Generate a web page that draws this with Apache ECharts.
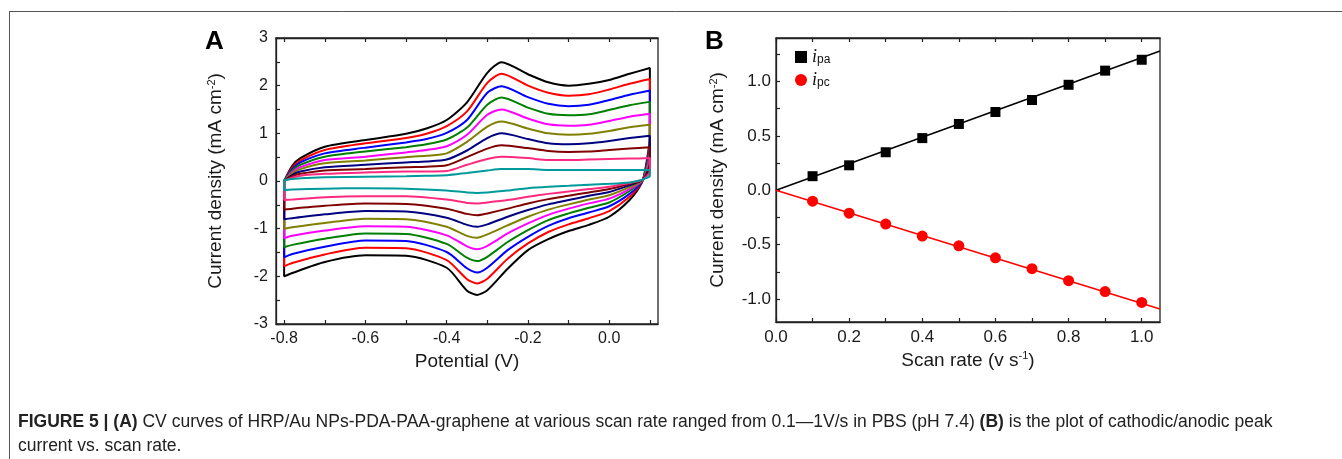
<!DOCTYPE html>
<html>
<head>
<meta charset="utf-8">
<script src="https://cdn.jsdelivr.net/npm/echarts@6/dist/echarts.min.js"></script>
<style>
html,body{margin:0;padding:0;background:#fff;}
#chart{width:1342px;height:459px;}
</style>
</head>
<body>
<div id="chart"></div>
<script>
// ---------- Panel A: CV curves ----------
const scanRatesA = ['1.0', '0.9', '0.8', '0.7', '0.6', '0.5', '0.4', '0.3', '0.2', '0.1'];
const potentialAnodic = [-0.8, -0.78, -0.76, -0.7, -0.6, -0.5, -0.45, -0.4, -0.35, -0.3, -0.265, -0.2, -0.15, -0.1, -0.05, 0, 0.05, 0.1];
const potentialCathodic = [0.1, 0.09, 0.08, 0.05, 0, -0.05, -0.1, -0.15, -0.2, -0.25, -0.3, -0.325, -0.35, -0.4, -0.5, -0.6, -0.7, -0.78, -0.8];

const anodic10 = [0, 0.32, 0.48, 0.72, 0.86, 0.99, 1.10, 1.28, 1.65, 2.27, 2.49, 2.24, 2.07, 2.00, 2.04, 2.12, 2.25, 2.37];
const anodic09 = [0, 0.28, 0.43, 0.65, 0.79, 0.90, 0.99, 1.15, 1.46, 2.06, 2.25, 2.00, 1.85, 1.79, 1.82, 1.92, 2.04, 2.14];
const anodic08 = [0, 0.25, 0.39, 0.58, 0.70, 0.81, 0.88, 1.01, 1.28, 1.85, 1.99, 1.76, 1.62, 1.57, 1.60, 1.70, 1.81, 1.90];
const anodic07 = [0, 0.22, 0.34, 0.51, 0.62, 0.71, 0.77, 0.87, 1.12, 1.60, 1.75, 1.54, 1.41, 1.38, 1.40, 1.49, 1.59, 1.66];
const anodic06 = [0, 0.19, 0.29, 0.44, 0.51, 0.60, 0.65, 0.73, 0.97, 1.39, 1.50, 1.31, 1.19, 1.16, 1.18, 1.26, 1.35, 1.41];
const anodic05 = [0, 0.16, 0.25, 0.37, 0.43, 0.50, 0.53, 0.58, 0.82, 1.14, 1.25, 1.10, 1.00, 0.97, 0.99, 1.05, 1.13, 1.18];
const anodic04 = [0, 0.13, 0.20, 0.29, 0.34, 0.39, 0.41, 0.45, 0.64, 0.90, 1.00, 0.88, 0.79, 0.77, 0.79, 0.84, 0.90, 0.95];
const anodic03 = [0, 0.10, 0.15, 0.22, 0.25, 0.29, 0.30, 0.33, 0.50, 0.68, 0.75, 0.69, 0.63, 0.61, 0.62, 0.65, 0.68, 0.71];
const anodic02 = [0, 0.07, 0.11, 0.15, 0.18, 0.20, 0.20, 0.21, 0.34, 0.46, 0.51, 0.48, 0.44, 0.44, 0.45, 0.46, 0.47, 0.48];
const anodic01 = [0.02, 0.04, 0.06, 0.08, 0.09, 0.10, 0.11, 0.12, 0.17, 0.22, 0.25, 0.25, 0.23, 0.23, 0.23, 0.23, 0.23, 0.23];

const cathodic10 = [0.95, 0.30, -0.04, -0.40, -0.75, -0.92, -1.05, -1.22, -1.45, -1.84, -2.29, -2.39, -2.30, -1.82, -1.57, -1.56, -1.70, -1.93, -2.00];
const cathodic09 = [0.85, 0.27, -0.03, -0.33, -0.63, -0.78, -0.91, -1.07, -1.31, -1.63, -2.05, -2.15, -2.06, -1.66, -1.41, -1.40, -1.54, -1.72, -1.79];
const cathodic08 = [0.76, 0.24, -0.02, -0.27, -0.53, -0.66, -0.78, -0.94, -1.17, -1.45, -1.82, -1.92, -1.83, -1.49, -1.26, -1.25, -1.38, -1.53, -1.60];
const cathodic07 = [0.66, 0.21, -0.01, -0.21, -0.45, -0.56, -0.68, -0.82, -1.03, -1.28, -1.59, -1.68, -1.61, -1.32, -1.11, -1.10, -1.21, -1.34, -1.39];
const cathodic06 = [0.56, 0.18, 0.00, -0.17, -0.37, -0.47, -0.58, -0.71, -0.89, -1.10, -1.36, -1.43, -1.37, -1.14, -0.96, -0.95, -1.04, -1.15, -1.20];
const cathodic05 = [0.47, 0.15, 0.00, -0.13, -0.30, -0.39, -0.49, -0.60, -0.75, -0.93, -1.12, -1.19, -1.15, -0.96, -0.80, -0.79, -0.88, -0.97, -1.00];
const cathodic04 = [0.38, 0.12, 0.01, -0.09, -0.23, -0.31, -0.40, -0.49, -0.61, -0.75, -0.91, -0.96, -0.92, -0.77, -0.64, -0.63, -0.70, -0.78, -0.80];
const cathodic03 = [0.28, 0.10, 0.01, -0.06, -0.17, -0.24, -0.31, -0.38, -0.47, -0.58, -0.68, -0.72, -0.69, -0.58, -0.48, -0.47, -0.52, -0.58, -0.60];
const cathodic02 = [0.19, 0.08, 0.02, -0.04, -0.12, -0.17, -0.22, -0.27, -0.33, -0.40, -0.45, -0.47, -0.46, -0.39, -0.32, -0.32, -0.34, -0.39, -0.40];
const cathodic01 = [0.10, 0.06, 0.02, -0.03, -0.06, -0.08, -0.10, -0.12, -0.15, -0.20, -0.24, -0.25, -0.24, -0.20, -0.16, -0.15, -0.16, -0.18, -0.19];

const anodicCurves = [anodic10, anodic09, anodic08, anodic07, anodic06, anodic05, anodic04, anodic03, anodic02, anodic01];
const cathodicCurves = [cathodic10, cathodic09, cathodic08, cathodic07, cathodic06, cathodic05, cathodic04, cathodic03, cathodic02, cathodic01];

const xTicksA = [-0.8, -0.7, -0.6, -0.5, -0.4, -0.3, -0.2, -0.1, 0.0, 0.1];
const xLabelsA = [-0.8, -0.6, -0.4, -0.2, 0.0];
const yTicksA = [-3, -2.5, -2, -1.5, -1, -0.5, 0, 0.5, 1, 1.5, 2, 2.5, 3];
const yLabelsA = [-3, -2, -1, 0, 1, 2, 3];

// ---------- Panel B: peak current vs scan rate ----------
const scanRatesB = [0.1, 0.2, 0.3, 0.4, 0.5, 0.6, 0.7, 0.8, 0.9, 1.0];
const ipa = [0.13, 0.23, 0.35, 0.48, 0.61, 0.72, 0.83, 0.97, 1.10, 1.20];
const ipc = [-0.10, -0.21, -0.31, -0.42, -0.51, -0.62, -0.72, -0.83, -0.93, -1.03];
const fitX = [0, 1.05];
const fitPa = [0, 1.28];
const fitPc = [0, -1.09];

const xTicksB = [0, 0.1, 0.2, 0.3, 0.4, 0.5, 0.6, 0.7, 0.8, 0.9, 1.0];
const xLabelsB = [0, 0.2, 0.4, 0.6, 0.8, 1.0];
const yTicksB = [-1.0, -0.75, -0.5, -0.25, 0, 0.25, 0.5, 0.75, 1.0, 1.25];
const yLabelsB = [-1.0, -0.5, 0.0, 0.5, 1.0];

// ---------- styles ----------
const curveColors = ['#000000', '#ff0000', '#0000ff', '#008000', '#ff00ff', '#808000', '#000080', '#800000', '#ff2a80', '#009a9a'];
const FONT = '"Liberation Sans", Arial, sans-serif';
const frameColor = '#222';

function axisCommon(gridIndex, min, max, ticks, labels, pos, showLabel, fmt, margin, fs) {
  return {
    type: 'value', gridIndex: gridIndex, position: pos, min: min, max: max,
    splitLine: { show: false },
    axisLine: { show: true, onZero: false, lineStyle: { color: frameColor, width: 1.3 } },
    axisTick: { show: true, inside: true, length: 4, customValues: ticks, lineStyle: { color: frameColor, width: 1.2 } },
    axisLabel: { show: showLabel, customValues: labels, formatter: fmt, margin: margin,
      fontFamily: FONT, fontSize: fs || 16, color: '#1a1a1a' }
  };
}

const fmt1 = v => (Math.abs(v) < 1e-9 ? 0 : v).toFixed(1);
const fmt0 = v => String(Math.round(v));

const nameRich = {
  a: { fontFamily: FONT, fontSize: 19, color: '#1a1a1a' },
  s: { fontFamily: FONT, fontSize: 11, color: '#1a1a1a', padding: [0, 0, 9, 0] }
};

const xAxes = [
  Object.assign(axisCommon(0, -0.82, 0.12, xTicksA, xLabelsA, 'bottom', true, fmt1, 7, 16), {
    name: 'Potential (V)', nameLocation: 'middle', nameGap: 28,
    nameTextStyle: { fontFamily: FONT, fontSize: 19, color: '#1a1a1a' }
  }),
  axisCommon(0, -0.82, 0.12, xTicksA, xLabelsA, 'top', false, fmt1, 7),
  Object.assign(axisCommon(1, 0, 1.05, xTicksB, xLabelsB, 'bottom', true, fmt1, 7, 17), {
    name: '{a|Scan rate (v s}{s|-1}{a|)}', nameLocation: 'middle', nameGap: 28,
    nameTextStyle: { fontFamily: FONT, fontSize: 19, color: '#1a1a1a', rich: nameRich }
  }),
  axisCommon(1, 0, 1.05, xTicksB, xLabelsB, 'top', false, fmt1, 7)
];

const yAxes = [
  Object.assign(axisCommon(0, -3, 3, yTicksA, yLabelsA, 'left', true, fmt0, 8, 16), {
    name: '{a|Current density (mA cm}{s|-2}{a|)}', nameLocation: 'middle', nameGap: 50,
    nameTextStyle: { fontFamily: FONT, fontSize: 19, color: '#1a1a1a', rich: nameRich }
  }),
  Object.assign(axisCommon(1, -1.21, 1.40, yTicksB, yLabelsB, 'left', true, fmt1, 5, 17), {
    name: '{a|Current density (mA cm}{s|-2}{a|)}', nameLocation: 'middle', nameGap: 48,
    nameTextStyle: { fontFamily: FONT, fontSize: 19, color: '#1a1a1a', rich: nameRich }
  })
];

const series = [];
scanRatesA.forEach((rate, i) => {
  const pts = [];
  potentialAnodic.forEach((x, k) => pts.push([x, anodicCurves[i][k]]));
  potentialCathodic.forEach((x, k) => pts.push([x, cathodicCurves[i][k]]));
  pts.push([potentialAnodic[0], anodicCurves[i][0]]);
  series.push({
    name: rate + ' V/s', type: 'line', xAxisIndex: 0, yAxisIndex: 0,
    data: pts, showSymbol: false, symbol: 'none', smooth: 0.25,
    lineStyle: { color: curveColors[i], width: 2 }, z: 2 + i, silent: true
  });
});

series.push({
  name: 'fitpa', type: 'line', xAxisIndex: 2, yAxisIndex: 1,
  data: fitX.map((x, k) => [x, fitPa[k]]), symbol: 'none',
  lineStyle: { color: '#000', width: 1.6 }, silent: true
});
series.push({
  name: 'fitpc', type: 'line', xAxisIndex: 2, yAxisIndex: 1,
  data: fitX.map((x, k) => [x, fitPc[k]]), symbol: 'none',
  lineStyle: { color: '#ff0000', width: 1.6 }, silent: true
});
series.push({
  name: 'ipa', type: 'scatter', xAxisIndex: 2, yAxisIndex: 1,
  data: scanRatesB.map((x, k) => [x, ipa[k]]), symbol: 'rect', symbolSize: 10,
  itemStyle: { color: '#000', opacity: 1 }, z: 5
});
series.push({
  name: 'ipc', type: 'scatter', xAxisIndex: 2, yAxisIndex: 1,
  data: scanRatesB.map((x, k) => [x, ipc[k]]), symbol: 'circle', symbolSize: 11,
  itemStyle: { color: '#ff0000', opacity: 1 }, z: 5
});

const option = {
  animation: false,
  backgroundColor: '#ffffff',
  grid: [
    { left: 276, top: 38, width: 382, height: 286, show: true, borderColor: frameColor, borderWidth: 1.3, backgroundColor: 'transparent' },
    { left: 776, top: 38, width: 384, height: 284, show: true, borderColor: frameColor, borderWidth: 1.3, backgroundColor: 'transparent' }
  ],
  xAxis: xAxes,
  yAxis: yAxes,
  legend: {
    data: ['ipa', 'ipc'], orient: 'vertical', left: 795, top: 48, padding: 0,
    itemWidth: 12, itemHeight: 12, itemGap: 5, selectedMode: false,
    formatter: name => '{i|i}{s|' + name.slice(1) + '}',
    textStyle: {
      rich: {
        i: { fontFamily: '"Liberation Serif", "Times New Roman", serif', fontStyle: 'italic', fontSize: 18, color: '#111' },
        s: { fontFamily: FONT, fontSize: 12, color: '#111', padding: [5, 0, 0, 0] }
      }
    }
  },
  graphic: [
    { type: 'line', shape: { x1: 9, y1: 11.5, x2: 1342, y2: 11.5 }, style: { stroke: '#555', lineWidth: 1 } },
    { type: 'line', shape: { x1: 9.5, y1: 11, x2: 9.5, y2: 459 }, style: { stroke: '#555', lineWidth: 1 } },
    { type: 'text', left: 205, top: 29, style: { text: 'A', font: 'bold 26px ' + FONT, fill: '#000' } },
    { type: 'text', left: 705, top: 29, style: { text: 'B', font: 'bold 26px ' + FONT, fill: '#000' } },
    { type: 'text', left: 18, top: 413, style: {
        text: '{b|FIGURE 5 | (A)} CV curves of HRP/Au NPs-PDA-PAA-graphene at various scan rate ranged from 0.1\u20141V/s in PBS (pH 7.4) {b|(B)} is the plot of cathodic/anodic peak',
        font: '17.5px ' + FONT, fill: '#222',
        rich: { b: { fontFamily: FONT, fontWeight: 'bold', fontSize: 17.5, color: '#222' } }
      } },
    { type: 'text', left: 18, top: 437, style: { text: 'current vs. scan rate.', font: '17.5px ' + FONT, fill: '#222' } }
  ],
  series: series
};

const chart = echarts.init(document.getElementById('chart'), null, { renderer: 'canvas' });
chart.setOption(option);
</script>
</body>
</html>
